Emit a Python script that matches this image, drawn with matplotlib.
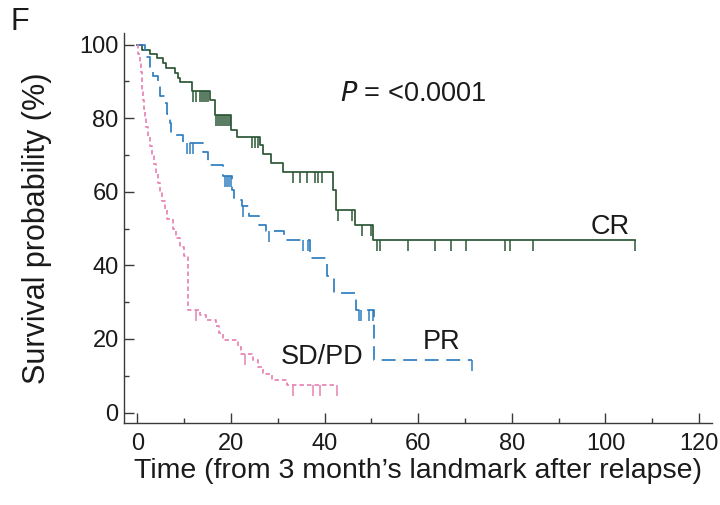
import numpy as np
import matplotlib
matplotlib.use("Agg")
import matplotlib.pyplot as plt
from matplotlib.ticker import MultipleLocator

plt.rcParams['font.family'] = ['Liberation Sans', 'DejaVu Sans']
plt.rcParams['lines.scale_dashes'] = False

# ---- data ----
cr_times = [0, 0.9, 2.7, 4.1, 5.4, 6.2, 8.0, 8.7, 9.1, 11.6, 15.5, 16.6, 20.1, 21.2,
            26.2, 26.9, 28.5, 31.2, 41.8, 42.4, 46.5, 50.3]
cr_surv = [100, 98.6, 97.3, 96.4, 95.0, 93.6, 92.3, 90.9, 89.7, 87.3, 85.0, 80.9, 76.8, 75.0,
           72.7, 70.2, 67.8, 65.5, 60.5, 55.0, 51.0, 46.8]
cr_censor = [11.9, 12.6, 13.4, 13.9, 14.3, 14.7, 15.1,
             16.9, 17.3, 17.7, 18.1, 18.5, 18.9, 19.3, 19.7,
             24.4, 25.1, 25.8,
             33.2, 34.7, 36.2, 37.9, 38.6, 39.4,
             42.9, 45.8, 47.9, 50.0,
             51.1, 51.8, 57.8, 63.6, 67.1, 70.3, 78.5, 79.6, 84.6, 106.3]

pr_times = [0, 1.6, 2.7, 3.3, 4.4, 4.8, 5.9, 6.3, 6.9, 7.2, 9.7, 14.0, 15.1, 18.3,
            20.2, 20.6, 22.3, 23.8, 26.0, 27.5, 31.4, 36.9, 40.5, 42.1, 46.8, 50.6]
pr_surv = [100, 96.5, 94.0, 91.5, 89.0, 86.0, 84.0, 81.0, 78.7, 75.5, 73.3, 70.8, 67.3, 64.2,
           60.5, 57.8, 56.0, 53.5, 51.0, 49.3, 46.9, 42.0, 37.0, 32.4, 28.0, 14.2]
pr_censor = [10.5, 11.2, 11.9, 18.8, 19.2, 19.6, 20.0, 22.5, 28.2, 35.4, 36.4,
             47.3, 47.8, 49.4, 50.3, 71.4]

sd_times = [0, 0.2, 0.5, 0.7, 0.9, 1.0, 1.2, 1.4, 1.6, 1.9, 2.3, 2.7, 3.2, 3.6, 4.0, 4.4,
            4.8, 5.3, 5.8, 6.3, 7.6, 8.3, 9.1, 9.9, 10.9, 13.4, 14.6, 16.8, 17.4, 18.3,
            21.5, 22.2, 24.7, 25.7, 26.8, 28.8, 31.9]
sd_surv = [100, 97.5, 95, 92.5, 90, 87.5, 85, 82.5, 80, 77.5, 75, 72.5, 70, 67.5, 65, 62.5,
           60, 57.5, 55, 52.5, 50, 47.5, 45, 42.5, 27.8, 26.5, 25.2, 23.5, 21.5, 19.6,
           17.7, 16.0, 14.2, 12.3, 10.6, 8.8, 7.6]
sd_censor = [12.6, 22.9, 33.2, 37.5, 39.0, 42.6]

groups = ["CR", "PR", "SD/PD"]
p_text = "<0.0001"
x_label = "Time (from 3 month\u2019s landmark after relapse)"
y_label = "Survival probability (%)"
panel = "F"

# ---- styles ----
c_cr = "#2c5636"
c_pr = "#2f7dbf"
c_sd = "#e683b4"


def surv_at(times, surv, t):
    idx = np.searchsorted(times, t, side="right") - 1
    return np.asarray(surv)[idx]


fig = plt.figure(figsize=(7.2, 5.05), dpi=100)
ax = fig.add_axes([0.1726, 0.1618, 0.9885 - 0.1726, 0.9337 - 0.1618])


def draw(times, surv, censor, color, dashes, lw):
    end = max(censor)
    xs = list(times) + [end]
    ys = list(surv) + [surv[-1]]
    line, = ax.step(xs, ys, where="post", color=color, lw=lw)
    if dashes is not None:
        line.set_dashes(dashes)
    cy = surv_at(times, surv, censor)
    ax.plot(censor, cy, linestyle="none", marker=3, markersize=8,
            markeredgewidth=1.1, color=color)


draw(cr_times, cr_surv, cr_censor, c_cr, None, 1.25)
draw(pr_times, pr_surv, pr_censor, c_pr, (10, 5.5), 1.25)
draw(sd_times, sd_surv, sd_censor, c_sd, (3.2, 2.2), 1.25)

ax.set_xlim(-2.8, 122.7)
ax.set_ylim(-2.9, 103)
ax.spines["top"].set_visible(False)
ax.spines["right"].set_visible(False)
for s in ("left", "bottom"):
    ax.spines[s].set_color("#3a3a3a")
    ax.spines[s].set_linewidth(1.0)

ax.xaxis.set_major_locator(MultipleLocator(20))
ax.xaxis.set_minor_locator(MultipleLocator(10))
ax.yaxis.set_major_locator(MultipleLocator(20))
ax.yaxis.set_minor_locator(MultipleLocator(10))
ax.tick_params(which="both", direction="in", color="#3a3a3a", width=1.0,
               labelsize=17, labelcolor="#1a1a1a")
ax.tick_params(which="major", length=7)
ax.tick_params(which="minor", length=3.5)
ax.tick_params(axis="x", which="major", pad=7)
ax.tick_params(axis="y", which="major", pad=4)

ax.set_xlabel(x_label, fontsize=20.5, color="#1a1a1a", labelpad=2.5)
ax.set_ylabel(y_label, fontsize=22, color="#1a1a1a", labelpad=20)

ax.text(101, 50.3, groups[0], fontsize=19.5, ha="center", va="center", color="#1a1a1a")
ax.text(64.9, 19.3, groups[1], fontsize=19.5, ha="center", va="center", color="#1a1a1a")
ax.text(39.4, 15.2, groups[2], fontsize=19.5, ha="center", va="center", color="#1a1a1a")
ax.text(43.3, 86.5, r"$\mathit{P}$ = " + p_text, fontsize=19.5, ha="left", va="center",
        color="#1a1a1a")

fig.text(20 / 720, 1 - 22 / 505, panel, fontsize=22, ha="center", va="center",
         color="#1a1a1a")

fig.savefig("out.png", dpi=100)
